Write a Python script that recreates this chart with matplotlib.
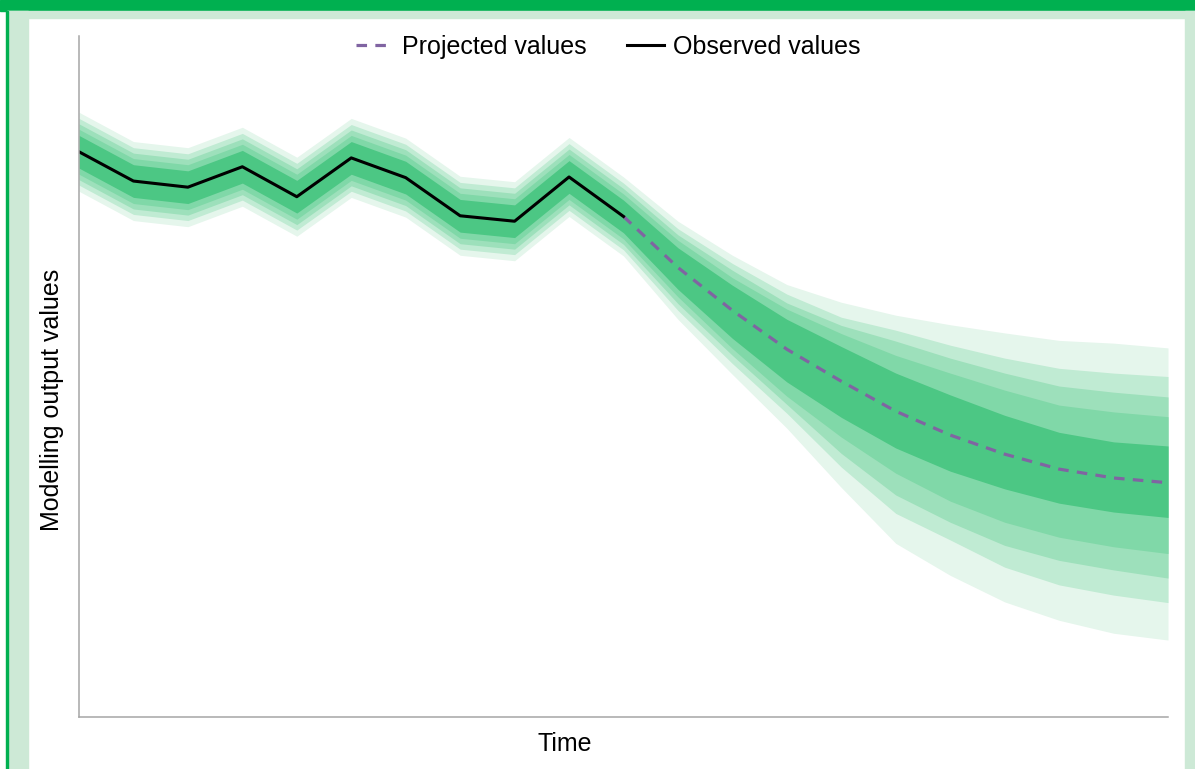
import numpy as np
import matplotlib.pyplot as plt
from matplotlib.patches import Rectangle

# time steps, observed up to step 10 then projected to step 20
steps = list(range(21))
observed = [83.0, 78.7, 77.8, 80.8, 76.4, 82.1, 79.2, 73.6, 72.8, 79.3, 73.5]
projected = [73.5, 66.0, 59.7, 54.0, 49.3, 44.9, 41.4, 38.6, 36.4, 35.1, 34.4]

# fan offsets above / below the central value, inner band first
upper_1 = [2.4, 2.4, 2.4, 2.4, 2.4, 2.4, 2.4, 2.4, 2.4, 2.4, 2.4, 2.9, 3.7, 4.4, 5.1, 5.6, 5.9, 5.7, 5.4, 5.3, 5.4]
upper_2 = [3.3, 3.3, 3.3, 3.3, 3.3, 3.3, 3.3, 3.3, 3.3, 3.3, 3.3, 4.0, 4.8, 5.9, 7.0, 8.2, 9.1, 9.4, 9.4, 9.7, 9.7]
upper_3 = [4.1, 4.1, 4.1, 4.1, 4.1, 4.1, 4.1, 4.1, 4.1, 4.1, 4.1, 4.8, 5.9, 6.8, 8.2, 10.3, 11.3, 11.9, 12.2, 12.6, 12.6]
upper_4 = [4.9, 4.9, 4.9, 4.9, 4.9, 4.9, 4.9, 4.9, 4.9, 4.9, 4.9, 5.7, 6.9, 8.1, 9.4, 11.9, 13.2, 14.1, 14.8, 15.4, 15.6]
upper_5 = [5.8, 5.8, 5.8, 5.8, 5.8, 5.8, 5.8, 5.8, 5.8, 5.8, 5.8, 6.8, 8.1, 9.5, 11.6, 14.1, 16.2, 17.8, 18.9, 19.8, 19.8]
lower_1 = [2.4, 2.4, 2.4, 2.4, 2.4, 2.4, 2.4, 2.4, 2.4, 2.4, 2.4, 3.2, 4.1, 4.8, 5.3, 5.4, 5.3, 5.1, 5.0, 5.0, 5.1]
lower_2 = [3.3, 3.3, 3.3, 3.3, 3.3, 3.3, 3.3, 3.3, 3.3, 3.3, 3.3, 4.3, 5.6, 6.9, 8.2, 9.1, 9.7, 10.0, 10.0, 10.1, 10.4]
lower_3 = [4.1, 4.1, 4.1, 4.1, 4.1, 4.1, 4.1, 4.1, 4.1, 4.1, 4.1, 5.3, 6.6, 8.1, 10.6, 12.3, 12.8, 13.4, 13.4, 13.5, 14.0]
lower_4 = [4.9, 4.9, 4.9, 4.9, 4.9, 4.9, 4.9, 4.9, 4.9, 4.9, 4.9, 6.3, 7.8, 9.4, 12.6, 15.0, 15.4, 16.6, 17.0, 17.2, 17.6]
lower_5 = [5.8, 5.8, 5.8, 5.8, 5.8, 5.8, 5.8, 5.8, 5.8, 5.8, 5.8, 7.6, 9.4, 11.6, 15.6, 19.4, 20.6, 21.7, 22.2, 22.8, 23.1]

band_colors = ['#4cc784', '#80d8a8', '#9de0bb', '#c0ebd3', '#e5f6ec']

plt.rcParams['font.family'] = ['Liberation Sans', 'DejaVu Sans']


def main():
    x = np.array(steps)
    centre = np.array(observed + projected[1:])
    uppers = [upper_1, upper_2, upper_3, upper_4, upper_5]
    lowers = [lower_1, lower_2, lower_3, lower_4, lower_5]

    fig = plt.figure(figsize=(11.95, 7.69), dpi=100)

    # page frame
    fig.patches.append(Rectangle((0, 1 - 11 / 769), 1, 11 / 769, transform=fig.transFigure,
                                 color='#00b050', zorder=0))
    fig.patches.append(Rectangle((7 / 1195, 1 - 18 / 769), 1, 7 / 769, transform=fig.transFigure,
                                 color='#cde9d6', zorder=0))
    fig.patches.append(Rectangle((7 / 1195, 0), 21 / 1195, 1 - 11 / 769, transform=fig.transFigure,
                                 color='#cde9d6', zorder=0))
    fig.patches.append(Rectangle((1185 / 1195, 0), 10 / 1195, 1 - 11 / 769, transform=fig.transFigure,
                                 color='#cde9d6', zorder=0))
    fig.patches.append(Rectangle((6 / 1195, 0), 1.6 / 1195, 1 - 11 / 769, transform=fig.transFigure,
                                 color='#00b050', zorder=0))

    ax = fig.add_axes([79 / 1195, 1 - 717 / 769, (1168 - 79) / 1195, (717 - 36) / 769])
    ax.patch.set_alpha(0)

    for up, lo, col in reversed(list(zip(uppers, lowers, band_colors))):
        ax.fill_between(x, centre - np.array(lo), centre + np.array(up), color=col, lw=0)

    ax.plot(x[10:], projected, color='#8064a2', lw=2.3, dashes=(3.3, 2.6),
            label='Projected values')
    ax.plot(x[:11], observed, color='black', lw=2.2, label='Observed values')

    ax.set_xlim(0, 20)
    ax.set_ylim(0, 100)
    ax.set_xticks([])
    ax.set_yticks([])
    for s in ['top', 'right']:
        ax.spines[s].set_visible(False)
    for s in ['left', 'bottom']:
        ax.spines[s].set_color('#a6a6a6')
        ax.spines[s].set_linewidth(1.1)

    fig.legend(loc='center', bbox_to_anchor=(608 / 1195, 1 - 47 / 769), ncol=2,
               frameon=False, fontsize=18, handlelength=1.5, handletextpad=0.35,
               columnspacing=1.6)

    fig.text(565 / 1195, 1 - 744 / 769, 'Time', fontsize=18, ha='center', va='center')
    fig.text(52 / 1195, 1 - 400 / 769, 'Modelling output values', fontsize=18,
             rotation=90, ha='center', va='center')

    fig.savefig('out.png', dpi=100)


if __name__ == "__main__":
    main()
